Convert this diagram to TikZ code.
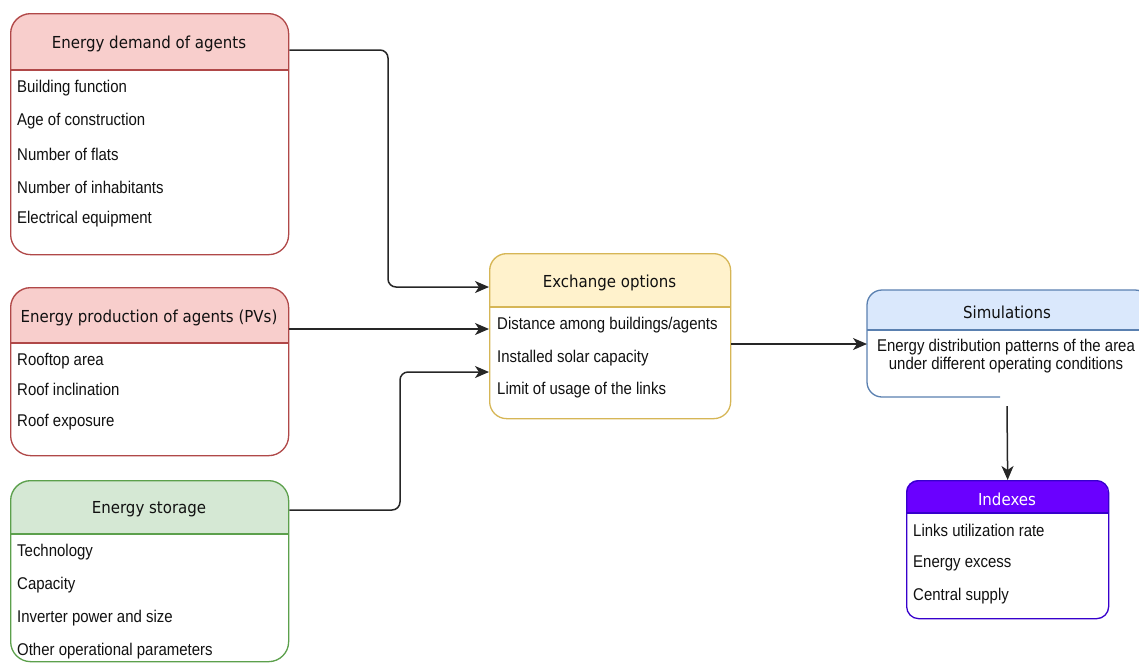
\documentclass[tikz,border=0pt]{standalone}
\usepackage{fontspec}
\setmainfont{Liberation Sans}
\newfontfamily\itemfont[FakeStretch=0.88]{Liberation Sans}
\newfontfamily\headfont[FakeStretch=0.91]{DejaVu Sans}
\usetikzlibrary{arrows.meta,calc}
\definecolor{redfill}{HTML}{F8CECC}
\definecolor{redline}{HTML}{B04848}
\definecolor{greenfill}{HTML}{D5E8D4}
\definecolor{greenline}{HTML}{5CA04C}
\definecolor{yelfill}{HTML}{FFF2CC}
\definecolor{yelline}{HTML}{D6B656}
\definecolor{bluefill}{HTML}{DAE8FC}
\definecolor{blueline}{HTML}{5A80B0}
\definecolor{purfill}{HTML}{6A00FF}
\definecolor{purline}{HTML}{3700CC}
\definecolor{txt}{HTML}{111111}
\tikzset{
  itemtext/.style={font=\itemfont\fontsize{17}{19}\selectfont, text=txt, anchor=west, inner sep=0, yshift=-1.5},
  headtext/.style={font=\headfont\fontsize{16.5}{18}\selectfont, text=txt, inner sep=0, yshift=-2.5},
  arr/.style={draw=black!85, line width=1.5, rounded corners=8, -{Stealth[length=14pt,width=12pt,inset=4pt]}},
}
\newcommand{\rr}{20}
% name, x1, y1, x2, y2, yh, fill, line, title
\newcommand{\swimbox}[9]{%
  \fill[white, rounded corners=\rr] (#2,#3) rectangle (#4,#5);
  \begin{scope}
    \clip (#2,#3) rectangle (#4,#6);
    \fill[#7, rounded corners=\rr] (#2,#3) rectangle (#4,#5);
  \end{scope}
  \draw[#8, line width=1.3] (#2,#6) -- (#4,#6);
  \node[draw=#8, line width=1.3, rounded corners=\rr, inner sep=0,
        minimum width={#4-#2}, minimum height={#5-#3}, anchor=north west] (#1) at (#2,#3) {};
  \node[headtext] (#1-title) at ({(#2+#4)/2},{(#3+#6)/2}) {#9};
}
\begin{document}
\begin{tikzpicture}[x=1pt,y=-1pt]
\useasboundingbox (0,0) rectangle (1139,662);

% Energy demand
\swimbox{demand}{10}{13}{288}{254}{70}{redfill}{redline}{Energy demand of agents}
\node[itemtext] (d1) at (17,87) {Building function};
\node[itemtext] (d2) at (17,120) {Age of construction};
\node[itemtext] (d3) at (17,153) {Number of flats};
\node[itemtext] (d4) at (17,186) {Number of inhabitants};
\node[itemtext] (d5) at (17,218) {Electrical equipment};

% Energy production
\swimbox{prod}{10}{287}{288}{455}{343}{redfill}{redline}{Energy production of agents (PVs)}
\node[itemtext] (p1) at (17,360) {Rooftop area};
\node[itemtext] (p2) at (17,388) {Roof inclination};
\node[itemtext] (p3) at (17,421) {Roof exposure};

% Energy storage
\swimbox{stor}{10}{480}{288}{661}{534}{greenfill}{greenline}{Energy storage}
\node[itemtext] (s1) at (17,551) {Technology};
\node[itemtext] (s2) at (17,584) {Capacity};
\node[itemtext] (s3) at (17,617) {Inverter power and size};
\node[itemtext] (s4) at (17,650) {Other operational parameters};

% Exchange options
\renewcommand{\rr}{17}
\swimbox{exch}{489}{253}{730}{418}{307}{yelfill}{yelline}{Exchange options}
\node[itemtext] (e1) at (497,324) {Distance among buildings/agents};
\node[itemtext] (e2) at (497,357) {Installed solar capacity};
\node[itemtext] (e3) at (497,389) {Limit of usage of the links};

% Simulations (partly cut off)
\fill[white, rounded corners=15] (867,290) rectangle (1150,397);
\begin{scope}
  \clip (867,290) rectangle (1150,330);
  \fill[bluefill, rounded corners=15] (867,290) rectangle (1150,397);
\end{scope}
\node[inner sep=0, minimum width=283, minimum height=107, anchor=north west] (sim) at (867,290) {};
\draw[blueline, line width=1.3, rounded corners=15] (1000,397) -- (867,397) -- (867,290) -- (1150,290) -- (1150,330);
\draw[blueline, line width=1.3] (867,330) -- (1150,330);
\node[headtext] (sim-title) at (1007,310) {Simulations};
\node[itemtext, anchor=center, align=center] (sim-text) at (1006,355)
  {Energy distribution patterns of the area\\[-1pt]under different operating conditions};

% Indexes
\renewcommand{\rr}{12}
\swimbox{idx}{906}{480}{1108}{618}{513}{purfill}{purline}{\textcolor{white}{Indexes}}
\node[itemtext] (i1) at (913,529) {Links utilization rate};
\node[itemtext] (i2) at (913,562) {Energy excess};
\node[itemtext] (i3) at (913,595) {Central supply};

% Connectors
\draw[arr] ($(demand.north east)+(0,37)$) -- (388,50) -- (388,287) -- ($(exch.north west)+(0,34)$);
\draw[arr] ($(prod.north east)+(0,42)$) -- ($(exch.north west)+(0,76)$);
\draw[arr] ($(stor.north east)+(0,30)$) -- (400,510) -- (400,372) -- ($(exch.north west)+(0,119)$);
\draw[arr] ($(exch.north east)+(0,91)$) -- ($(sim.north west)+(0,54)$);
\coordinate (simout) at (1007,406);
\draw[arr] (simout) -- (idx.north);
\end{tikzpicture}
\end{document}
